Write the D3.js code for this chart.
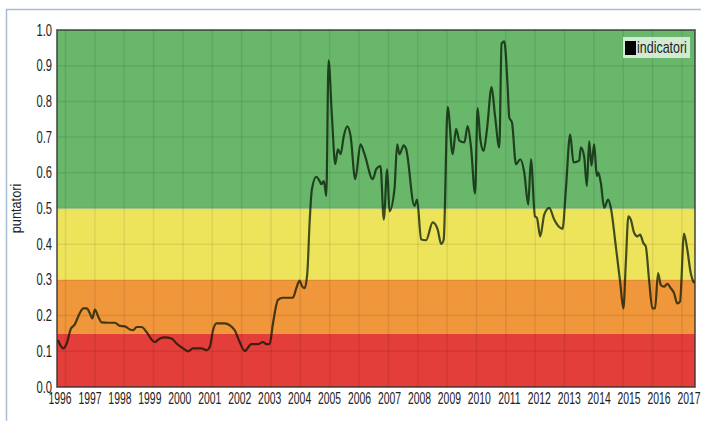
<!DOCTYPE html>
<html>
<head>
<meta charset="utf-8">
<script src="https://cdn.jsdelivr.net/npm/d3@7"></script>
<style>
  html, body { margin: 0; padding: 0; background: #ffffff; }
  svg { display: block; }
  .tick-text { font-family: "Liberation Sans", Arial, sans-serif; font-size: 16.5px; fill: #222; }
</style>
</head>
<body>
<svg id="chart" width="701" height="421"></svg>
<script>
// ---- data ----
const years = [1996,1997,1998,1999,2000,2001,2002,2003,2004,2005,2006,2007,2008,2009,2010,2011,2012,2013,2014,2015,2016,2017];
const yTicks = [0.0,0.1,0.2,0.3,0.4,0.5,0.6,0.7,0.8,0.9,1.0];
const bandLimits = [0, 0.15, 0.3, 0.5, 1.0];
const bandColors = ["#e33e3a", "#f0963b", "#eee45c", "#69b76b"];
const seriesName = "indicatori";
const dates = [
  1995.933,1996.110,1996.223,1996.367,1996.477,1996.667,1996.777,1996.890,1997.000,1997.077,
  1997.167,1997.277,1997.390,1997.610,1997.833,1998.000,1998.167,1998.333,1998.443,1998.557,
  1998.723,1998.890,1999.057,1999.167,1999.333,1999.500,1999.723,1999.890,2000.110,2000.277,
  2000.443,2000.723,2000.890,2001.000,2001.110,2001.223,2001.500,2001.667,2001.833,2002.000,
  2002.167,2002.390,2002.610,2002.777,2002.890,2003.000,2003.110,2003.277,2003.443,2003.777,
  2003.890,2004.000,2004.077,2004.167,2004.257,2004.333,2004.410,2004.557,2004.667,2004.723,
  2004.810,2004.890,2004.967,2005.077,2005.190,2005.277,2005.367,2005.477,2005.590,2005.700,
  2005.857,2006.033,2006.167,2006.443,2006.557,2006.700,2006.810,2006.923,2007.000,2007.167,
  2007.257,2007.333,2007.477,2007.557,2007.833,2007.923,2008.057,2008.223,2008.443,2008.610,
  2008.723,2008.810,2008.943,2009.110,2009.223,2009.333,2009.500,2009.610,2009.723,2009.857,
  2009.943,2010.033,2010.143,2010.257,2010.410,2010.523,2010.667,2010.743,2010.833,2010.943,
  2011.000,2011.090,2011.223,2011.367,2011.500,2011.633,2011.723,2011.857,2011.923,2012.033,
  2012.167,2012.333,2012.500,2012.667,2012.777,2012.890,2013.033,2013.143,2013.333,2013.390,
  2013.500,2013.590,2013.667,2013.743,2013.833,2013.923,2013.967,2014.057,2014.167,2014.300,
  2014.390,2014.557,2014.700,2014.810,2014.890,2014.977,2015.057,2015.167,2015.277,2015.367,
  2015.477,2015.557,2015.667,2015.777,2015.867,2015.967,2016.057,2016.167,2016.277,2016.390,
  2016.500,2016.610,2016.700,2016.833,2016.943,2017.057,2017.167
];
const values = [
  0.131,0.108,0.122,0.164,0.173,0.208,0.220,0.220,0.206,0.192,
  0.217,0.197,0.181,0.180,0.180,0.171,0.170,0.161,0.159,0.168,
  0.168,0.154,0.133,0.126,0.136,0.139,0.136,0.122,0.108,0.100,
  0.108,0.108,0.103,0.112,0.159,0.178,0.178,0.173,0.159,0.126,
  0.101,0.120,0.120,0.126,0.120,0.120,0.178,0.244,0.250,0.250,
  0.277,0.298,0.283,0.277,0.319,0.460,0.554,0.589,0.577,0.568,
  0.577,0.535,0.915,0.760,0.624,0.666,0.652,0.704,0.730,0.704,
  0.582,0.680,0.652,0.582,0.610,0.619,0.469,0.610,0.492,0.554,
  0.680,0.652,0.677,0.666,0.507,0.525,0.413,0.411,0.461,0.441,
  0.401,0.413,0.784,0.652,0.723,0.690,0.685,0.731,0.671,0.542,
  0.781,0.694,0.661,0.723,0.840,0.760,0.671,0.962,0.968,0.845,
  0.755,0.741,0.624,0.638,0.601,0.511,0.638,0.478,0.474,0.422,
  0.483,0.502,0.469,0.448,0.443,0.554,0.708,0.629,0.634,0.671,
  0.645,0.563,0.688,0.620,0.680,0.591,0.601,0.572,0.502,0.525,
  0.502,0.394,0.295,0.220,0.347,0.478,0.469,0.432,0.422,0.427,
  0.403,0.394,0.300,0.220,0.220,0.319,0.286,0.281,0.289,0.277,
  0.263,0.234,0.239,0.430,0.385,0.319,0.291
];

// ---- layout ----
const svg = d3.select("#chart");
const x = d3.scaleLinear().domain([1996, 2017]).range([60, 689]);
const y = d3.scaleLinear().domain([0, 1]).range([387, 30]);
const plotX0 = 57, plotX1 = 695;
const gridX = d3.scaleLinear().domain([0, years.length - 1]).range([65.5, 682]);

// outer frame lines
svg.append("line").attr("x1", 6).attr("x2", 701).attr("y1", 9.5).attr("y2", 9.5)
  .attr("stroke", "#a8bed2").attr("stroke-width", 1.5);
svg.append("line").attr("x1", 6.5).attr("x2", 6.5).attr("y1", 9).attr("y2", 421)
  .attr("stroke", "#a8bed2").attr("stroke-width", 1.5);

// bands
const bands = d3.range(bandColors.length).map(i => ({lo: bandLimits[i], hi: bandLimits[i+1], c: bandColors[i]}));
svg.append("g").selectAll("rect").data(bands).join("rect")
  .attr("x", plotX0).attr("width", plotX1 - plotX0)
  .attr("y", d => y(d.hi)).attr("height", d => y(d.lo) - y(d.hi))
  .attr("fill", d => d.c);

// grid
const grid = svg.append("g");
grid.selectAll("line.h").data(yTicks.filter(v => v > 0 && v < 1)).join("line")
  .attr("class", "h")
  .attr("x1", plotX0).attr("x2", plotX1)
  .attr("y1", d => y(d)).attr("y2", d => y(d))
  .attr("stroke", "rgba(0,0,0,0.08)").attr("stroke-width", 1.5);
grid.selectAll("line.v").data(years.map((d, i) => i)).join("line")
  .attr("class", "v")
  .attr("x1", d => gridX(d)).attr("x2", d => gridX(d))
  .attr("y1", y(1)).attr("y2", y(0))
  .attr("stroke", "rgba(0,0,0,0.08)").attr("stroke-width", 1.5);

// plot border
svg.append("rect").attr("x", plotX0).attr("y", y(1)).attr("width", plotX1 - plotX0).attr("height", y(0) - y(1))
  .attr("fill", "none").attr("stroke", "rgba(50,50,50,0.75)").attr("stroke-width", 1.8);

// line
const pts = dates.map((d, i) => [d, values[i]]);
svg.append("path").datum(pts)
  .attr("fill", "none")
  .attr("stroke", "rgba(0,20,0,0.72)")
  .attr("stroke-width", 2.2)
  .attr("stroke-linejoin", "round")
  .attr("d", d3.line().x(d => x(d[0])).y(d => y(d[1])).curve(d3.curveMonotoneX));

// y axis labels
svg.append("g").selectAll("text").data(yTicks).join("text")
  .attr("class", "tick-text")
  .attr("text-anchor", "end")
  .attr("transform", d => `translate(52,${y(d) + 5.5}) scale(0.68,1)`)
  .text(d => d.toFixed(1));

// x axis labels
svg.append("g").selectAll("text").data(years).join("text")
  .attr("class", "tick-text")
  .attr("text-anchor", "middle")
  .attr("transform", d => `translate(${x(d)},404) scale(0.63,1)`)
  .text(d => d);

// y title
svg.append("text")
  .attr("class", "tick-text")
  .attr("text-anchor", "middle")
  .style("font-size", "15px")
  .attr("transform", `translate(21,${y(0.5)}) rotate(-90) scale(0.85,1)`)
  .text("puntatori");

// legend
const lg = svg.append("g");
lg.append("rect").attr("x", 623).attr("y", 37).attr("width", 67).attr("height", 21)
  .attr("fill", "rgba(255,255,255,0.7)");
lg.append("rect").attr("x", 625).attr("y", 41).attr("width", 11).attr("height", 14).attr("fill", "#000");
lg.append("text").attr("class", "tick-text")
  .attr("transform", "translate(637,53) scale(0.78,1)")
  .style("font-size", "16px").text(seriesName);
</script>
</body>
</html>
